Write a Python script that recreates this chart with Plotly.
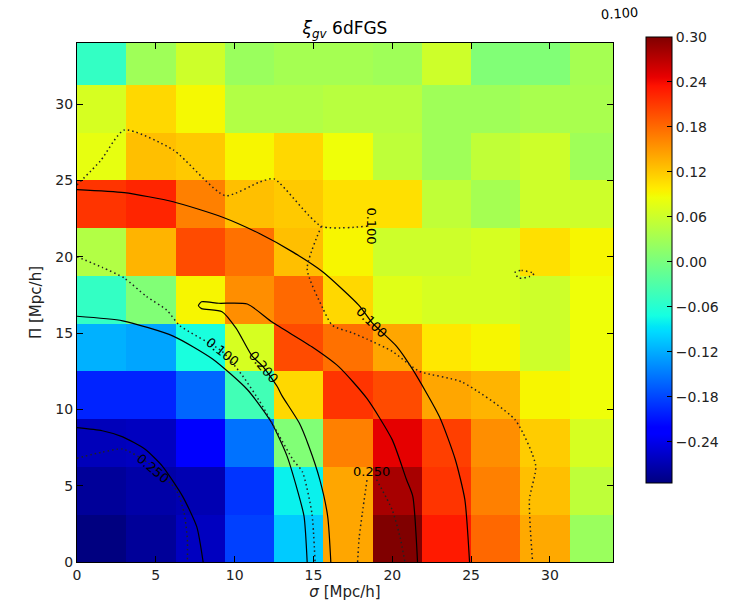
import numpy as np
import plotly.graph_objects as go

# ---------------- data ----------------
cell = 3.125
sigma_centers = [1.5625 + cell * i for i in range(11)]
pi_centers = [1.5625 + cell * i for i in range(11)]

# xi_gv values, rows from Pi = 0 (bottom) to top; columns sigma = 0 .. 34
row00 = [-0.295, -0.282, -0.262, -0.183, -0.102, 0.142, 0.300, 0.230, 0.181, 0.140, 0.024]
row01 = [-0.282, -0.275, -0.269, -0.190, -0.080, 0.142, 0.280, 0.214, 0.166, 0.126, 0.050]
row02 = [-0.265, -0.262, -0.224, -0.154, 0.006, 0.166, 0.248, 0.207, 0.157, 0.118, 0.068]
row03 = [-0.200, -0.200, -0.161, -0.040, 0.110, 0.214, 0.199, 0.142, 0.133, 0.092, 0.086]
row04 = [-0.117, -0.124, -0.069, 0.068, 0.199, 0.175, 0.142, 0.100, 0.092, 0.061, 0.086]
row05 = [-0.050, 0.006, 0.092, 0.157, 0.180, 0.110, 0.075, 0.068, 0.068, 0.061, 0.086]
row06 = [0.042, 0.133, 0.199, 0.175, 0.126, 0.092, 0.061, 0.061, 0.068, 0.105, 0.092]
row07 = [0.214, 0.223, 0.166, 0.126, 0.120, 0.105, 0.105, 0.052, 0.032, 0.061, 0.061]
row08 = [0.080, 0.126, 0.120, 0.092, 0.110, 0.086, 0.050, 0.028, 0.052, 0.061, 0.028]
row09 = [0.068, 0.110, 0.090, 0.042, 0.042, 0.046, 0.046, 0.028, 0.028, 0.035, 0.035]
row10 = [-0.050, 0.028, 0.061, 0.024, 0.032, 0.032, 0.028, 0.061, 0.006, 0.006, 0.032]
xi_rows = [row00, row01, row02, row03, row04, row05, row06, row07, row08, row09, row10]

zmin, zmax = -0.295, 0.30
cbar_ticks = [-0.24, -0.18, -0.12, -0.06, 0.0, 0.06, 0.12, 0.18, 0.24, 0.30]
axis_ticks = [0, 5, 10, 15, 20, 25, 30]

# solid contour lines (sigma, Pi)
s1_x = [0, 1.6, 2.9, 4.3, 5.4, 6.7, 7.6, 8.0]
s1_y = [8.8, 8.6, 8.2, 7.4, 6.3, 4.3, 2.3, 0]
s2_x = [0, 2.9, 6.1, 8.6, 10.8, 12.3, 13.3, 13.9, 14.4, 14.6]
s2_y = [16.1, 15.8, 14.8, 13.3, 11.3, 9.2, 7.0, 5.0, 3.0, 0]
s3_x = [16.1, 15.9, 15.4, 14.7, 14.1, 13.0, 12.7, 11.8, 11.1, 10.1, 9.2, 7.9, 7.7, 7.9, 9.0,
        10.8, 12.4, 14.9, 16.6, 18.4, 20.0, 20.9, 21.3, 21.6]
s3_y = [0, 3.0, 5.4, 7.6, 9.1, 10.9, 11.5, 12.8, 13.5, 15.3, 16.4, 16.6, 16.8, 17.05, 16.95,
        16.9, 15.7, 14.1, 12.8, 10.7, 8.0, 5.4, 4.3, 0]
s4_x = [0, 3.0, 6.1, 9.2, 11.6, 13.7, 15.6, 17.9, 18.7, 20.3, 21.3, 23.0, 24.0, 24.6, 24.9]
s4_y = [24.4, 24.2, 23.6, 22.6, 21.5, 20.3, 19.0, 16.8, 15.7, 14.1, 12.6, 9.5, 6.7, 4.1, 0]

# dotted contour lines
d1_x = [0, 1.6, 2.9, 4.5, 6.3, 6.8, 7.0, 7.0]
d1_y = [6.8, 7.2, 7.4, 6.5, 4.7, 3.2, 1.5, 0]
d2_x = [0, 1.6, 3.0, 4.4, 5.7, 6.5, 9.2, 10.5, 11.6, 12.7, 13.7, 14.3, 14.9, 15.1]
d2_y = [20.0, 19.3, 18.6, 17.4, 16.5, 15.5, 13.8, 12.2, 10.5, 8.5, 6.7, 5.9, 3.2, 0]
d3a_x = [0, 1.5, 3.0, 6.1, 9.4, 11.6, 12.5, 15.5, 18.4]
d3a_y = [24.7, 26.3, 28.3, 27.0, 24.0, 24.9, 25.1, 22.0, 22.0]
d3b_x = [15.5, 14.6, 15.6, 16.2, 17.5, 18.4, 20.0, 21.7, 24.4, 27.8, 29.1, 28.7, 28.9]
d3b_y = [22.0, 19.2, 16.6, 15.5, 15.0, 14.6, 13.8, 12.5, 11.8, 9.3, 6.3, 4.1, 0]
d4a_x = [17.8, 17.9, 18.1, 18.4]
d4a_y = [0, 1.6, 3.2, 5.4]
d4b_x = [19.0, 20.0, 20.5, 20.8]
d4b_y = [5.4, 3.4, 1.6, 0]
d5_x = [27.8, 28.2, 29.0, 28.7, 28.0, 27.8]
d5_y = [19.0, 19.1, 18.9, 18.7, 18.6, 19.0]

# contour labels: text, sigma, Pi, angle
label_text = ["0.250", "0.100", "0.200", "0.100", "0.100", "0.250"]
label_x = [4.8, 9.2, 11.8, 18.7, 18.7, 18.7]
label_y = [6.1, 13.8, 12.8, 15.7, 22.0, 5.9]
label_angle = [40, 38, 50, 45, 90, 0]

# ---------------- colorscale (matplotlib jet) ----------------
red_pts = ([0, 0.35, 0.66, 0.89, 1], [0, 0, 1, 1, 0.5])
green_pts = ([0, 0.125, 0.375, 0.64, 0.91, 1], [0, 0, 1, 1, 0, 0])
blue_pts = ([0, 0.11, 0.34, 0.65, 1], [0.5, 1, 1, 0, 0])
stops = sorted(set(red_pts[0] + green_pts[0] + blue_pts[0]))
jet = []
for s in stops:
    r = np.interp(s, *red_pts)
    g = np.interp(s, *green_pts)
    b = np.interp(s, *blue_pts)
    jet.append([s, f"rgb({int(round(r*255))},{int(round(g*255))},{int(round(b*255))})"])

FONT = "DejaVu Sans"

fig = go.Figure()
fig.add_trace(go.Heatmap(
    x=sigma_centers, y=pi_centers, z=xi_rows,
    colorscale=jet, zmin=zmin, zmax=zmax,
    colorbar=dict(
        x=(646 - 77) / 536, xanchor="left", xref="paper",
        y=(562 - 260) / 519, yanchor="middle",
        len=(483 - 37) / 519, lenmode="fraction",
        thickness=26, thicknessmode="pixels",
        xpad=0, ypad=0,
        outlinecolor="black", outlinewidth=1,
        tickvals=cbar_ticks, tickformat=".2f",
        ticks="inside", ticklen=5, tickcolor="black",
        tickfont=dict(family=FONT, size=14, color="#222"),
    ),
    hoverinfo="skip",
))

solid = [(s1_x, s1_y), (s2_x, s2_y), (s3_x, s3_y), (s4_x, s4_y)]
dotted = [(d1_x, d1_y), (d2_x, d2_y), (d3a_x, d3a_y), (d3b_x, d3b_y),
          (d4a_x, d4a_y), (d4b_x, d4b_y), (d5_x, d5_y)]
for xs, ys in solid:
    fig.add_trace(go.Scatter(x=xs, y=ys, mode="lines",
                             line=dict(color="black", width=1.2, shape="spline", smoothing=0.6),
                             showlegend=False, hoverinfo="skip"))
for xs, ys in dotted:
    fig.add_trace(go.Scatter(x=xs, y=ys, mode="lines",
                             line=dict(color="#222", width=1.5, dash="1.5px,3px", shape="spline", smoothing=0.6),
                             showlegend=False, hoverinfo="skip"))

for t, lx, ly, ang in zip(label_text, label_x, label_y, label_angle):
    fig.add_annotation(x=lx, y=ly, xref="x", yref="y", text=t, showarrow=False,
                       textangle=ang, font=dict(family=FONT, size=13, color="black"))

# stray label above the plot
fig.add_annotation(x=(598 - 77) / 536, y=(562 - 14) / 519, xref="paper", yref="paper",
                   xanchor="left", yanchor="middle",
                   text="0.100", showarrow=False, textangle=-4,
                   font=dict(family=FONT, size=13, color="black"))

axis_common = dict(
    range=[0, 34], tickvals=axis_ticks, ticks="inside", ticklen=6, tickcolor="black",
    showline=True, linecolor="black", linewidth=1, mirror="allticks",
    showgrid=False, zeroline=False,
    tickfont=dict(family=FONT, size=14, color="#222"),
)
fig.update_xaxes(**axis_common,
                 title=dict(text="<i>σ</i> [Mpc/h]", font=dict(family=FONT, size=15, color="#222"), standoff=2))
fig.update_yaxes(**axis_common,
                 title=dict(text="Π [Mpc/h]", font=dict(family=FONT, size=15, color="#222"), standoff=10))

fig.update_layout(
    width=741, height=608,
    margin=dict(l=77, r=128, t=43, b=46, autoexpand=False),
    paper_bgcolor="white", plot_bgcolor="white",
    title=dict(text="<i>ξ</i><sub><i>gv</i></sub> 6dFGS", x=345 / 741, xanchor="center",
               y=1 - 28 / 608, yanchor="middle", yref="container",
               font=dict(family=FONT, size=17, color="black")),
)

fig.write_html("out.html")
